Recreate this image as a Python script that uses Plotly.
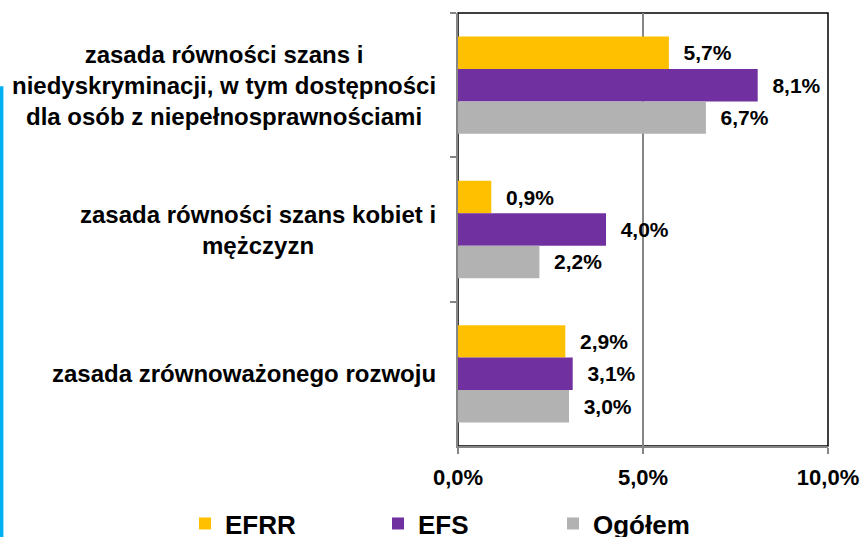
import plotly.graph_objects as go

# categories, top to bottom
categories = [
    "zasada równości szans i<br>niedyskryminacji, w tym dostępności<br>dla osób z niepełnosprawnościami",
    "zasada równości szans kobiet i<br>mężczyzn",
    "zasada zrównoważonego rozwoju",
]
series_names = ["EFRR", "EFS", "Ogółem"]
efrr = [5.7, 0.9, 2.9]
efs = [8.1, 4.0, 3.1]
ogolem = [6.7, 2.2, 3.0]
x_ticks = [0, 5, 10]
x_tick_labels = ["0,0%", "5,0%", "10,0%"]

YELLOW = "#FFC000"
PURPLE = "#7030A0"
GRAY = "#B2B2B2"
AXIS_GRAY = "#868686"
BLUE = "#00B0F0"
FONT = "Liberation Sans, Arial, sans-serif"

W, H = 863, 537
legend_names = ["legend", "legend2", "legend3"]
legend_x = [185, 378, 553]   # left edge of each legend entry, px

fig = go.Figure()
for name, vals, color, lg in zip(series_names, [efrr, efs, ogolem], [YELLOW, PURPLE, GRAY], legend_names):
    fig.add_trace(go.Bar(
        y=categories, x=vals, orientation="h", name=name, legend=lg,
        marker=dict(color=color, line_width=0),
        texttemplate="\u00a0\u00a0%{x:.1f}%", textposition="outside",
        textfont=dict(family=FONT, size=21, color="black", weight="bold"),
        constraintext="none", cliponaxis=False,
    ))

for cat in categories:
    fig.add_annotation(
        x=0, xref="paper", y=cat, yref="y", xanchor="right", xshift=-20,
        align="center", showarrow=False, text=cat,
        font=dict(family=FONT, size=24, color="black", weight="bold"),
    )

# plot area border (top / right black)
fig.add_shape(type="rect", xref="paper", yref="paper", x0=0, x1=1, y0=0, y1=1,
              line=dict(color="black", width=1.5), layer="between")
# blue bar at the left edge
fig.add_shape(type="line", xref="paper", yref="paper", x0=-1.234, x1=-1.234, y0=0.831, y1=-0.25,
              line=dict(color=BLUE, width=4))

legend_style = dict(orientation="h", xref="container", yref="container",
                    y=0.025, xanchor="left", yanchor="middle",
                    bgcolor="rgba(0,0,0,0)",
                    font=dict(family=FONT, size=26, weight="bold"))
fig.update_layout(
    width=W, height=H,
    margin=dict(l=458, r=35, t=13, b=91, autoexpand=False),
    plot_bgcolor="white", paper_bgcolor="white",
    barmode="group", bargap=0.326, bargroupgap=0,
    separators=", ",
    font=dict(family=FONT, color="black"),
    showlegend=True,
    legend=dict(x=legend_x[0] / W, **legend_style),
    legend2=dict(x=legend_x[1] / W, **legend_style),
    legend3=dict(x=legend_x[2] / W, **legend_style),
)
fig.update_xaxes(
    range=[0, 10], tickvals=x_ticks, ticktext=x_tick_labels,
    showgrid=True, gridcolor=AXIS_GRAY, gridwidth=2,
    showline=True, linecolor=AXIS_GRAY, linewidth=2,
    ticks="outside", ticklen=6, tickcolor=AXIS_GRAY, tickwidth=2,
    ticklabelstandoff=5,
    tickfont=dict(family=FONT, size=22, color="black", weight="bold"),
    zeroline=False,
)
fig.update_yaxes(
    autorange="reversed", showticklabels=False,
    showline=True, linecolor=AXIS_GRAY, linewidth=2,
    ticks="outside", tickson="boundaries", ticklen=6, tickcolor=AXIS_GRAY, tickwidth=2,
    showgrid=False,
)

# the page body has a default 8px margin; drop it so the chart sits at the window edge
fig.write_html("out.html", config={"displayModeBar": False},
               post_script="document.body.style.margin = '0';")
